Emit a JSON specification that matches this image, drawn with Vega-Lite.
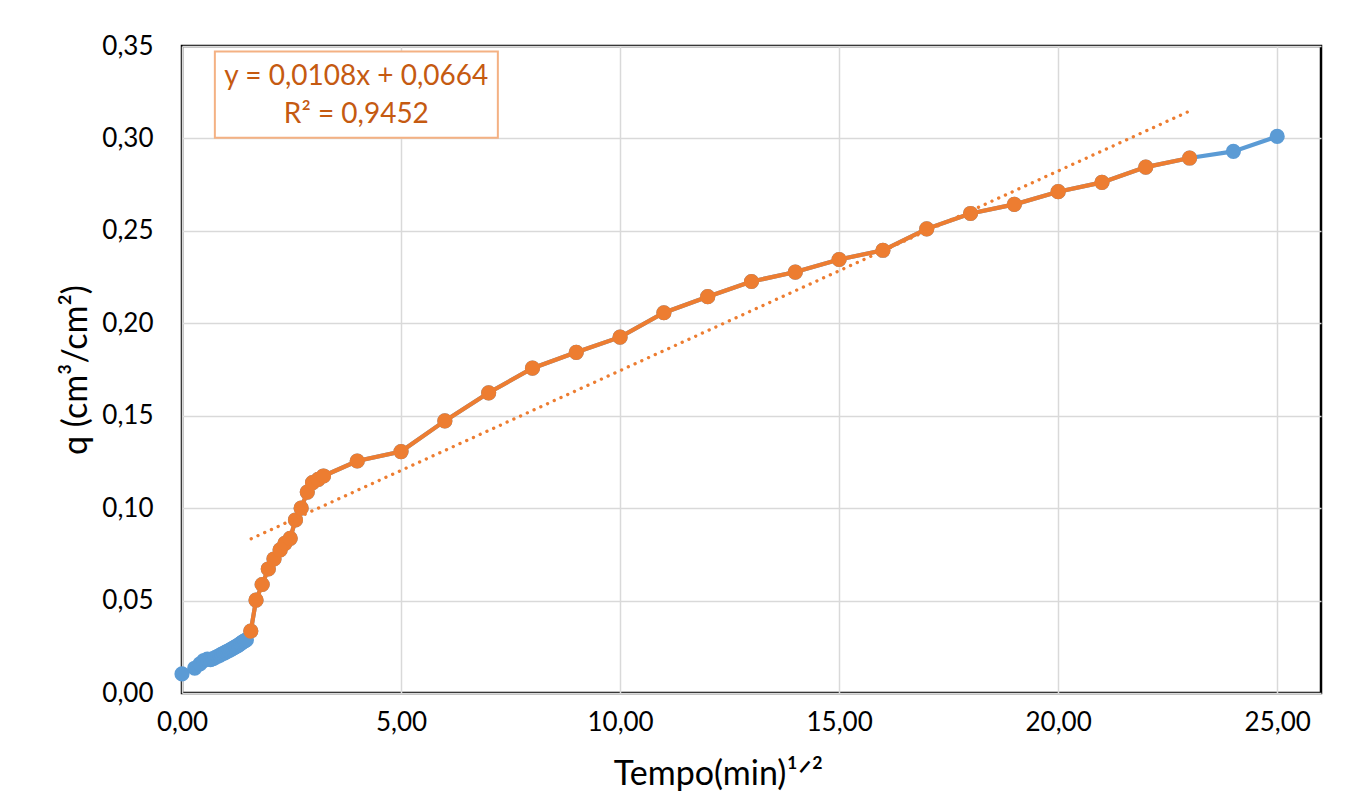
{
  "$schema": "https://vega.github.io/schema/vega-lite/v6.json",
  "autosize": {"type": "none"},
  "width": 1139,
  "height": 647,
  "padding": {"left": 182, "top": 46, "right": 50, "bottom": 107},
  "background": "white",
  "config": {
    "locale": {"number": {"decimal": ",", "thousands": ".", "grouping": [3], "currency": ["", " €"]}},
    "view": {"stroke": "black", "strokeWidth": 2.5},
    "axis": {
      "domain": false,
      "ticks": false,
      "grid": true,
      "gridColor": "#D9D9D9",
      "gridWidth": 1.5,
      "labelFlush": false,
      "labelFont": "Lato",
      "labelFontSize": 26,
      "labelColor": "#000000",
      "titleFont": "Lato",
      "titleFontSize": 34,
      "titleFontWeight": "normal",
      "titleColor": "#000000"
    }
  },
  "datasets": {
    "ensaio": [
      {"t": 0.00, "q": 0.0103, "linear": false},
      {"t": 0.29, "q": 0.0134, "linear": false},
      {"t": 0.41, "q": 0.0158, "linear": false},
      {"t": 0.50, "q": 0.0176, "linear": false},
      {"t": 0.58, "q": 0.0183, "linear": false},
      {"t": 0.65, "q": 0.0181, "linear": false},
      {"t": 0.71, "q": 0.0186, "linear": false},
      {"t": 0.76, "q": 0.0192, "linear": false},
      {"t": 0.82, "q": 0.0199, "linear": false},
      {"t": 0.87, "q": 0.0205, "linear": false},
      {"t": 0.91, "q": 0.0211, "linear": false},
      {"t": 0.96, "q": 0.0216, "linear": false},
      {"t": 1.00, "q": 0.0221, "linear": false},
      {"t": 1.04, "q": 0.0226, "linear": false},
      {"t": 1.08, "q": 0.0231, "linear": false},
      {"t": 1.12, "q": 0.0236, "linear": false},
      {"t": 1.15, "q": 0.0240, "linear": false},
      {"t": 1.19, "q": 0.0245, "linear": false},
      {"t": 1.22, "q": 0.0250, "linear": false},
      {"t": 1.26, "q": 0.0255, "linear": false},
      {"t": 1.29, "q": 0.0259, "linear": false},
      {"t": 1.32, "q": 0.0264, "linear": false},
      {"t": 1.35, "q": 0.0270, "linear": false},
      {"t": 1.38, "q": 0.0275, "linear": false},
      {"t": 1.41, "q": 0.0279, "linear": false},
      {"t": 1.44, "q": 0.0283, "linear": false},
      {"t": 1.47, "q": 0.0287, "linear": false},
      {"t": 1.57, "q": 0.0335, "linear": true},
      {"t": 1.69, "q": 0.0502, "linear": true},
      {"t": 1.83, "q": 0.0587, "linear": true},
      {"t": 1.97, "q": 0.0671, "linear": true},
      {"t": 2.10, "q": 0.0725, "linear": true},
      {"t": 2.24, "q": 0.0774, "linear": true},
      {"t": 2.35, "q": 0.0810, "linear": true},
      {"t": 2.47, "q": 0.0837, "linear": true},
      {"t": 2.59, "q": 0.0936, "linear": true},
      {"t": 2.72, "q": 0.1000, "linear": true},
      {"t": 2.86, "q": 0.1087, "linear": true},
      {"t": 2.98, "q": 0.1138, "linear": true},
      {"t": 3.11, "q": 0.1156, "linear": true},
      {"t": 3.23, "q": 0.1174, "linear": true},
      {"t": 4, "q": 0.1255, "linear": true},
      {"t": 5, "q": 0.1306, "linear": true},
      {"t": 6, "q": 0.1472, "linear": true},
      {"t": 7, "q": 0.1624, "linear": true},
      {"t": 8, "q": 0.1757, "linear": true},
      {"t": 9, "q": 0.1843, "linear": true},
      {"t": 10, "q": 0.1925, "linear": true},
      {"t": 11, "q": 0.2057, "linear": true},
      {"t": 12, "q": 0.2144, "linear": true},
      {"t": 13, "q": 0.2226, "linear": true},
      {"t": 14, "q": 0.2277, "linear": true},
      {"t": 15, "q": 0.2345, "linear": true},
      {"t": 16, "q": 0.2395, "linear": true},
      {"t": 17, "q": 0.2511, "linear": true},
      {"t": 18, "q": 0.2594, "linear": true},
      {"t": 19, "q": 0.2643, "linear": true},
      {"t": 20, "q": 0.2712, "linear": true},
      {"t": 21, "q": 0.2762, "linear": true},
      {"t": 22, "q": 0.2845, "linear": true},
      {"t": 23, "q": 0.2894, "linear": true},
      {"t": 24, "q": 0.2930, "linear": false},
      {"t": 25, "q": 0.3011, "linear": false}
    ],
    "tendencia": [
      {"t": 1.58, "q": 0.08346},
      {"t": 23, "q": 0.3148}
    ],
    "equacao": [
      {"x1": 0.75, "x2": 7.21, "y1": 0.3003, "y2": 0.347}
    ],
    "rotulos": [
      {"t": 3.98, "q": 0.3335, "texto": "y = 0,0108x + 0,0664"},
      {"t": 3.98, "q": 0.3125, "texto": "R² = 0,9452"}
    ]
  },
  "layer": [
    {
      "data": {"name": "ensaio"},
      "mark": {"type": "line", "color": "#5B9BD5", "strokeWidth": 4.2, "point": {"filled": true, "size": 230, "color": "#5B9BD5", "opacity": 1}},
      "encoding": {
        "x": {"field": "t", "type": "quantitative", "scale": {"domain": [0, 26], "nice": false}, "axis": {"values": [0, 5, 10, 15, 20, 25], "format": ".2f", "labelPadding": 16, "title": "Tempo(min)¹ᐟ²", "titlePadding": 22, "titleX": 536, "titleAlign": "center"}},
        "y": {"field": "q", "type": "quantitative", "scale": {"domain": [0, 0.35], "nice": false}, "axis": {"values": [0, 0.05, 0.1, 0.15, 0.2, 0.25, 0.3, 0.35], "format": ".2f", "labelPadding": 29, "title": "q (cm³/cm²)", "titlePadding": 8}}
      }
    },
    {
      "data": {"name": "ensaio"},
      "transform": [{"filter": "datum.linear"}],
      "mark": {"type": "line", "color": "#ED7D31", "strokeWidth": 4.2, "point": {"filled": true, "size": 230, "color": "#ED7D31", "opacity": 1}},
      "encoding": {
        "x": {"field": "t", "type": "quantitative"},
        "y": {"field": "q", "type": "quantitative"}
      }
    },
    {
      "data": {"name": "tendencia"},
      "mark": {"type": "line", "color": "#ED7D31", "strokeWidth": 3.3, "strokeCap": "round", "strokeDash": [0.1, 7.3]},
      "encoding": {
        "x": {"field": "t", "type": "quantitative"},
        "y": {"field": "q", "type": "quantitative"}
      }
    },
    {
      "data": {"name": "equacao"},
      "mark": {"type": "rect", "fill": "white", "stroke": "#F4B183", "strokeWidth": 2},
      "encoding": {
        "x": {"field": "x1", "type": "quantitative"},
        "x2": {"field": "x2"},
        "y": {"field": "y1", "type": "quantitative"},
        "y2": {"field": "y2"}
      }
    },
    {
      "data": {"name": "rotulos"},
      "mark": {"type": "text", "font": "Lato", "fontSize": 28, "color": "#C55A11", "align": "center", "baseline": "middle"},
      "encoding": {
        "x": {"field": "t", "type": "quantitative"},
        "y": {"field": "q", "type": "quantitative"},
        "text": {"field": "texto"}
      }
    }
  ]
}
